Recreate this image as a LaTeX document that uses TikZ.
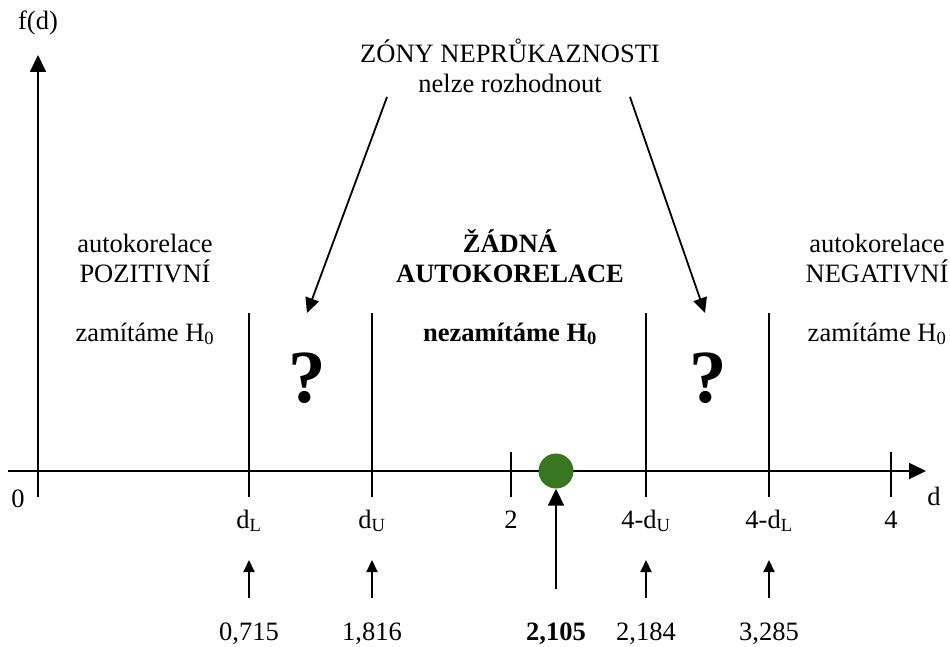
\documentclass[tikz,border=0pt]{standalone}
\usepackage{fontspec}
\setmainfont{Liberation Serif}
\usetikzlibrary{arrows.meta}
\begin{document}
\begin{tikzpicture}[x=1pt,y=1pt,
  txt/.style={font=\fontsize{26.5}{30}\selectfont, inner sep=0pt, anchor=base},
  btxt/.style={txt, font=\fontsize{26.5}{30}\selectfont\bfseries},
  qmark/.style={inner sep=0pt, anchor=base, font=\fontsize{75}{78}\selectfont\bfseries},
  axis/.style={line width=2pt, -{Triangle[length=17pt,width=16pt]}},
  tick/.style={line width=2pt},
  ptr/.style={line width=1.8pt, -{Triangle[length=15pt,width=14pt]}},
  small ptr/.style={line width=2pt, -{Triangle[length=12pt,width=11pt]}},
  dwcolor/.style={fill={rgb,255:red,56;green,118;blue,32}}]
\useasboundingbox (0,0) rectangle (950,646);

% axes
\coordinate (xs) at (8,175);
\coordinate (xe) at (926,175);
\coordinate (ys) at (38,149);
\coordinate (ye) at (38,591);
\draw[axis] (xs) -- (xe);
\draw[axis] (ys) -- (ye);

% critical values on the d axis
\draw[tick] (249,149) -- (249,333);
\draw[tick] (372,149) -- (372,333);
\draw[tick] (646,149) -- (646,333);
\draw[tick] (769,149) -- (769,333);
\draw[tick] (511,149) -- (511,194);
\draw[tick] (891,149) -- (891,194);

% axis labels
\node[txt] (fd) at (38,616) {f(d)};
\node[txt] (zero) at (18,139) {0};
\node[txt] (dd) at (934,141) {d};
\node[txt] (ldl) at (249,118) {d\textsubscript{L}};
\node[txt] (ldu) at (372,118) {d\textsubscript{U}};
\node[txt] (ltwo) at (511,118) {2};
\node[txt] (l4du) at (646,118) {4-d\textsubscript{U}};
\node[txt] (l4dl) at (769,118) {4-d\textsubscript{L}};
\node[txt] (lfour) at (891,118) {4};

% region descriptions
\node[txt] (zony) at (510,583) {ZÓNY NEPRŮKAZNOSTI};
\node[txt] (nelze) at (510,553) {nelze rozhodnout};
\node[txt] (pos1) at (145,393) {autokorelace};
\node[txt] (pos2) at (145,363) {POZITIVNÍ};
\node[txt] (pos3) at (145,305) {zamítáme H\textsubscript{0}};
\node[btxt] (no1) at (510,393) {ŽÁDNÁ};
\node[btxt] (no2) at (510,363) {AUTOKORELACE};
\node[btxt] (no3) at (510,305) {nezamítáme H\textsubscript{0}};
\node[txt] (neg1) at (877,393) {autokorelace};
\node[txt] (neg2) at (877,363) {NEGATIVNÍ};
\node[txt] (neg3) at (877,305) {zamítáme H\textsubscript{0}};
\node[qmark] (q1) at (307,244) {?};
\node[qmark] (q2) at (708,244) {?};

% pointers to the inconclusive zones
\coordinate (zl) at (387,549);
\coordinate (zr) at (630,549);
\draw[ptr] (zl) -- (307,333);
\draw[ptr] (zr) -- (705,333);

% computed statistic
\node[circle, dwcolor, minimum size=35pt, inner sep=0pt] (dw) at (556,175) {};

% values below the axis
\node[txt] (v1) at (249,6) {0,715};
\node[txt] (v2) at (372,6) {1,816};
\node[btxt] (v3) at (556,6) {2,105};
\node[txt] (v4) at (646,6) {2,184};
\node[txt] (v5) at (769,6) {3,285};

\coordinate (a1) at (249,48);
\coordinate (a2) at (372,48);
\coordinate (a3) at (556,57);
\coordinate (a4) at (646,48);
\coordinate (a5) at (769,48);
\draw[small ptr] (a1) -- ++(0,38);
\draw[small ptr] (a2) -- ++(0,38);
\draw[small ptr] (a4) -- ++(0,38);
\draw[small ptr] (a5) -- ++(0,38);
\draw[axis] (a3) -- (dw.south);
\end{tikzpicture}
\end{document}
